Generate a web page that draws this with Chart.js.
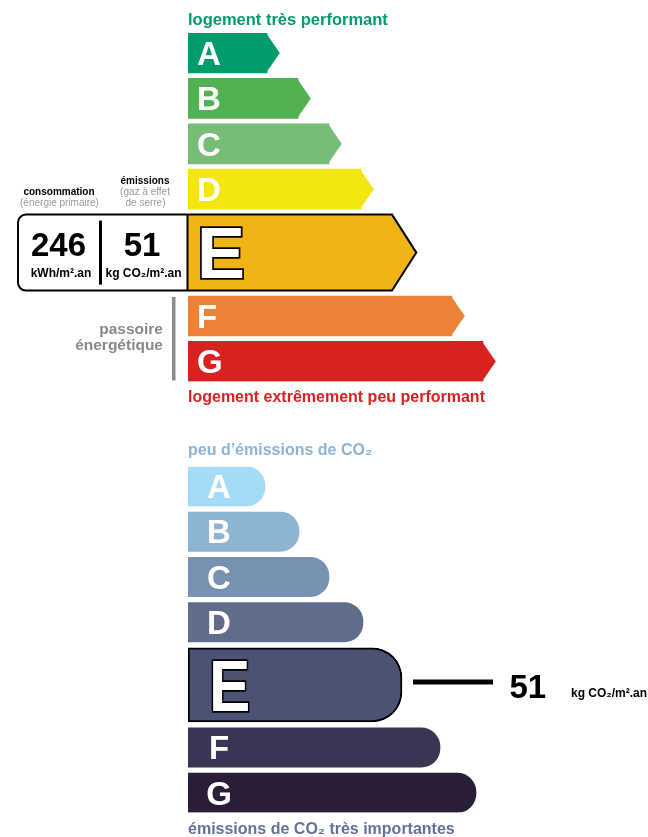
<!DOCTYPE html>
<html lang="fr">
<head>
<meta charset="utf-8">
<title>DPE</title>
<script src="https://cdn.jsdelivr.net/npm/chart.js@4.4.1/dist/chart.umd.min.js"></script>
<style>
  html, body { margin: 0; padding: 0; background: #fff; }
  body { width: 648px; height: 837px; position: relative; overflow: hidden; font-family: "Liberation Sans", Arial, sans-serif; }
  canvas { position: absolute; left: 0; }
  .t { position: absolute; line-height: 1; white-space: nowrap; font-weight: bold; }
  .c { width: 120px; text-align: center; }
  .n { font-weight: normal; color: #9a9a9a; }
</style>
</head>
<body>
<canvas id="energyChart" width="648" height="420" style="top:0"></canvas>
<canvas id="climateChart" width="648" height="417" style="top:420px"></canvas>

<div class="t" style="left:188px;top:11px;font-size:16.5px;color:#009c6d">logement très performant</div>
<div class="t" style="left:188px;top:388.5px;font-size:16px;color:#d7221f">logement extrêmement peu performant</div>
<div class="t" style="left:188px;top:441.5px;font-size:16px;color:#8cb4d6">peu d’émissions de CO₂</div>
<div class="t" style="left:188px;top:820.5px;font-size:16px;color:#62739a">émissions de CO₂ très importantes</div>

<div class="t c" style="left:-1px;top:186.5px;font-size:10px">consommation</div>
<div class="t c n" style="left:-0.5px;top:197.5px;font-size:10px">(énergie primaire)</div>
<div class="t c" style="left:85px;top:175.5px;font-size:10px">émissions</div>
<div class="t c n" style="left:85px;top:187px;font-size:10px">(gaz à effet</div>
<div class="t c n" style="left:85.5px;top:198px;font-size:10px">de serre)</div>

<div class="t c" id="energyNum" style="left:-1.5px;top:228px;font-size:33px"></div>
<div class="t c" style="left:1px;top:266.8px;font-size:12px">kWh/m².an</div>
<div class="t c" id="climateNum" style="left:82px;top:228px;font-size:33px"></div>
<div class="t c" style="left:83.5px;top:266.8px;font-size:12px">kg CO₂/m².an</div>

<div class="t" style="right:485px;top:321px;font-size:15.5px;color:#8a8a8a;text-align:right">passoire<br><span style="line-height:15.5px">énergétique</span></div>

<div class="t" id="climateNum2" style="left:509.5px;top:669.5px;font-size:33px"></div>
<div class="t" style="left:571px;top:686.8px;font-size:12px">kg CO₂/m².an</div>

<script>
const classes = ['A', 'B', 'C', 'D', 'E', 'F', 'G'];
const currentClass = 'E';
const energyValue = 246;   // kWh/m².an
const climateValue = 51;   // kg CO2/m².an

// bar lengths (1 unit = 1 px of the scale)
const energyLengths = [79, 110, 141, 173, 204, 264, 295];
const climateLengths = [77, 111, 141, 175, 214, 252, 288];

const energyColors = ['#009c6d', '#52b153', '#78bd76', '#f4e70f', '#f0b415', '#eb8235', '#d7221f'];
const climateColors = ['#a4dbf8', '#8cb4d3', '#7692b0', '#5f6d8b', '#4b5273', '#3a3552', '#2b1d37'];

document.getElementById('energyNum').textContent = energyValue;
document.getElementById('climateNum').textContent = climateValue;
document.getElementById('climateNum2').textContent = climateValue;

// row centres along the y scale, the current class row is taller
function rowCenters(rowH, curH, gap) {
    let y = 0;
    return classes.map(c => {
        const h = c === currentClass ? curH : rowH;
        const mid = y + h / 2;
        y += h + gap;
        return mid;
    });
}

// bar element of each class, in class order
function elementsByClass(chart) {
    const out = [];
    chart.data.datasets.forEach((ds, di) => {
        chart.getDatasetMeta(di).data.forEach((el, k) => { out[ds.data[k].i] = el; });
    });
    return out;
}

function letter(ctx, txt, x, y, size, big, align, sx) {
    ctx.save();
    ctx.font = 'bold ' + size + 'px "Liberation Sans", Arial, sans-serif';
    ctx.textAlign = align;
    ctx.textBaseline = 'alphabetic';
    ctx.translate(x, y);
    ctx.scale(sx || 1, 1);
    if (big) {
        ctx.lineWidth = 3.5;
        ctx.strokeStyle = '#000';
        ctx.lineJoin = 'miter';
        ctx.strokeText(txt, 0, 0);
    }
    ctx.fillStyle = '#fff';
    ctx.fillText(txt, 0, 0);
    ctx.restore();
}

const tipDepth = h => h / 2 * 0.64;

const energyDeco = {
    id: 'energyDeco',
    beforeDatasetsDraw(chart) {
        const ctx = chart.ctx;
        const el = elementsByClass(chart)[classes.indexOf(currentClass)];
        const top = el.y - el.height / 2;
        ctx.save();
        ctx.fillStyle = '#fff';
        ctx.beginPath();
        ctx.roundRect(18, top, el.base - 18, el.height, [8, 0, 0, 8]);
        ctx.fill();
        ctx.restore();
    },
    afterDatasetsDraw(chart) {
        const ctx = chart.ctx;
        const els = elementsByClass(chart);
        ctx.save();
        els.forEach((el, i) => {
            const top = el.y - el.height / 2, bottom = el.y + el.height / 2;
            const d = tipDepth(el.height);
            ctx.fillStyle = energyColors[i];
            ctx.beginPath();
            ctx.moveTo(el.x - 1, top);
            ctx.lineTo(el.x + d, el.y);
            ctx.lineTo(el.x - 1, bottom);
            ctx.closePath();
            ctx.fill();
        });

        // outline round the current class + value box
        const ci = classes.indexOf(currentClass);
        const el = els[ci];
        const top = el.y - el.height / 2, bottom = el.y + el.height / 2;
        const d = tipDepth(el.height);
        const L = 18, r = 8;
        ctx.strokeStyle = '#000';
        ctx.lineWidth = 2;
        ctx.lineJoin = 'miter';
        ctx.beginPath();
        ctx.moveTo(L + r, top);
        ctx.lineTo(el.x, top);
        ctx.lineTo(el.x + d, el.y);
        ctx.lineTo(el.x, bottom);
        ctx.lineTo(L + r, bottom);
        ctx.arcTo(L, bottom, L, bottom - r, r);
        ctx.lineTo(L, top + r);
        ctx.arcTo(L, top, L + r, top, r);
        ctx.closePath();
        ctx.stroke();
        ctx.beginPath();
        ctx.moveTo(el.base - 0.5, top);
        ctx.lineTo(el.base - 0.5, bottom);
        ctx.stroke();
        // divider inside the box
        ctx.fillStyle = '#000';
        ctx.fillRect(99, top + 6, 3, el.height - 12);

        // grey bracket beside F and G
        const f = els[5], g = els[6];
        ctx.fillStyle = '#8a8a8a';
        ctx.fillRect(172, f.y - f.height / 2 + 1, 3.5, (g.y + g.height / 2) - (f.y - f.height / 2) - 2);

        els.forEach((e, i) => {
            const big = classes[i] === currentClass;
            const size = big ? 72 : 33;
            letter(ctx, classes[i], e.base + 9, e.y + size * 0.716 / 2, size, big, 'left');
        });
        ctx.restore();
    }
};

const climateDeco = {
    id: 'climateDeco',
    afterDatasetsDraw(chart) {
        const ctx = chart.ctx;
        const els = elementsByClass(chart);
        ctx.save();
        els.forEach((e, i) => {
            const big = classes[i] === currentClass;
            const size = big ? 72 : 33;
            letter(ctx, classes[i], e.base + (big ? 41.7 : 31), e.y + size * 0.716 / 2, size, big, 'center', big ? 0.86 : 1);
        });
        const el = els[classes.indexOf(currentClass)];
        ctx.strokeStyle = '#000';
        ctx.lineWidth = 5;
        ctx.beginPath();
        ctx.moveTo(el.x + 11, el.y - 3);
        ctx.lineTo(el.x + 91, el.y - 3);
        ctx.stroke();
        ctx.restore();
    }
};

function makeChart(id, lengths, colors, geo, deco) {
    const canvas = document.getElementById(id);
    const centers = rowCenters(geo.rowH, geo.curH, geo.gap);
    const span = centers[centers.length - 1] + geo.rowH / 2;
    const points = classes.map((c, i) => ({ x: lengths[i], y: centers[i], i: i }));
    const normal = points.filter(p => classes[p.i] !== currentClass);
    const current = points.filter(p => classes[p.i] === currentClass);

    return new Chart(canvas, {
        type: 'bar',
        data: {
            datasets: [{
                data: normal,
                barThickness: geo.rowH,
                backgroundColor: normal.map(p => colors[p.i]),
                borderWidth: 0,
                borderRadius: geo.radius,
                grouped: false
            }, {
                data: current,
                barThickness: geo.curH,
                backgroundColor: current.map(p => colors[p.i]),
                borderWidth: geo.curBorder,
                borderColor: '#000',
                borderSkipped: geo.curBorder ? false : 'start',
                borderRadius: { topLeft: 0, bottomLeft: 0, topRight: geo.curRadius, bottomRight: geo.curRadius },
                grouped: false
            }]
        },
        options: {
            indexAxis: 'y',
            responsive: false,
            animation: false,
            devicePixelRatio: 1,
            layout: { padding: { left: geo.left, right: 0, top: geo.top, bottom: canvas.height - geo.top - span } },
            scales: {
                x: { type: 'linear', display: false, offset: false, min: 0, max: canvas.width - geo.left },
                y: { type: 'linear', display: false, offset: false, min: 0, max: span, reverse: true }
            },
            plugins: {
                legend: { display: false },
                tooltip: { enabled: false }
            }
        },
        plugins: [deco]
    });
}

const energyChart = makeChart('energyChart', energyLengths, energyColors,
    { left: 188, top: 33, rowH: 40, curH: 76, gap: 5.4, radius: 0, curRadius: 0, curBorder: 0 }, energyDeco);

const climateChart = makeChart('climateChart', climateLengths, climateColors,
    { left: 188, top: 46.7, rowH: 39.3, curH: 74, gap: 6, radius: 19, curRadius: 30, curBorder: 2 }, climateDeco);
</script>
</body>
</html>
